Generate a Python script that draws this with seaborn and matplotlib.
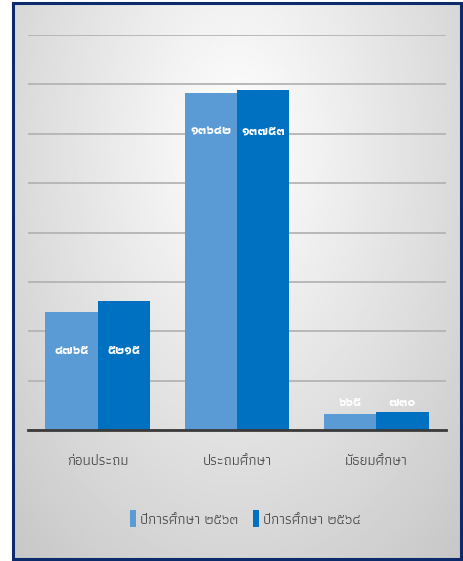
import numpy as np
import pandas as pd
import matplotlib
matplotlib.use('Agg')
import matplotlib.pyplot as plt
import seaborn as sns
from matplotlib.patches import Rectangle

# Data
categories = ['ก่อนประถม', 'ประถมศึกษา', 'มัธยมศึกษา']
years = ['ปีการศึกษา ๒๕๖๓', 'ปีการศึกษา ๒๕๖๔']
values_2563 = [4765, 13642, 665]
values_2564 = [5215, 13753, 730]
colors = ['#5B9BD5', '#0070C0']

df = pd.DataFrame({
    'ระดับ': categories * 2,
    'ปี': [years[0]] * 3 + [years[1]] * 3,
    'จำนวน': values_2563 + values_2564,
})

thai_digits = str.maketrans('0123456789', '๐๑๒๓๔๕๖๗๘๙')

sns.set_theme(style='white')
plt.rcParams['font.family'] = ['Athiti', 'Noto Sans Thai', 'DejaVu Sans']

fig = plt.figure(figsize=(4.64, 5.61), dpi=100)

# พื้นหลังไล่สี + กรอบ
bg = fig.add_axes([12 / 464, 1 - 560 / 561, 450 / 464, 558 / 561])
yy, xx = np.mgrid[0:1:200j, 0:1:200j]
d = np.sqrt(((xx - 0.5) / 0.75) ** 2 + ((yy - 0.75) / 1.0) ** 2)
shade = 1 - 0.22 * np.clip(d, 0, 1)
bg.imshow(shade, cmap='gray', vmin=0, vmax=1, extent=[0, 1, 0, 1], aspect='auto', origin='lower')
bg.set_axis_off()
fig.patches.append(Rectangle((13 / 464, 1 - 559 / 561), 448 / 464, 556 / 561, transform=fig.transFigure,
                             fill=False, edgecolor='#0D2A6B', linewidth=2.2, zorder=10))

ax = fig.add_axes([28 / 464, 131 / 561, 418 / 464, 395 / 561])
ax.patch.set_alpha(0)
sns.barplot(data=df, x='ระดับ', y='จำนวน', hue='ปี', palette=colors, width=0.75,
            saturation=1, linewidth=0, ax=ax, legend=True)

ax.set_ylim(0, 16000)
ax.set_yticks(range(0, 16001, 2000))
ax.yaxis.grid(True, color='#B4B4B4', linewidth=1.3)
ax.set_axisbelow(True)
ax.set_yticklabels([])
ax.tick_params(axis='both', length=0)
ax.set_xlabel('')
ax.set_ylabel('')
for s in ['top', 'right', 'left']:
    ax.spines[s].set_visible(False)
ax.spines['bottom'].set_color('#3A3A3A')
ax.spines['bottom'].set_linewidth(2)
ax.tick_params(axis='x', labelsize=10.5, labelcolor='#404040', pad=18)

# ป้ายค่าบนแท่ง (ระดับเดียวกันในแต่ละกลุ่ม)
group_min = [min(a, b) for a, b in zip(values_2563, values_2564)]
for cont in ax.containers:
    for i, bar in enumerate(cont):
        h = bar.get_height()
        txt = str(int(round(h))).translate(thai_digits)
        y = group_min[i] - 1550 if group_min[i] > 2000 else group_min[i] + 420
        ax.text(bar.get_x() + bar.get_width() / 2, y, txt, ha='center', va='center',
                color='white', fontsize=9.5, fontweight='bold')

ax.legend(loc='upper center', bbox_to_anchor=(0.52, -0.17), ncol=2, frameon=False,
          fontsize=10.5, handlelength=0.45, handleheight=1.4, handletextpad=0.25,
          columnspacing=1.0, labelcolor='#404040')

fig.savefig('out.png', dpi=100)
